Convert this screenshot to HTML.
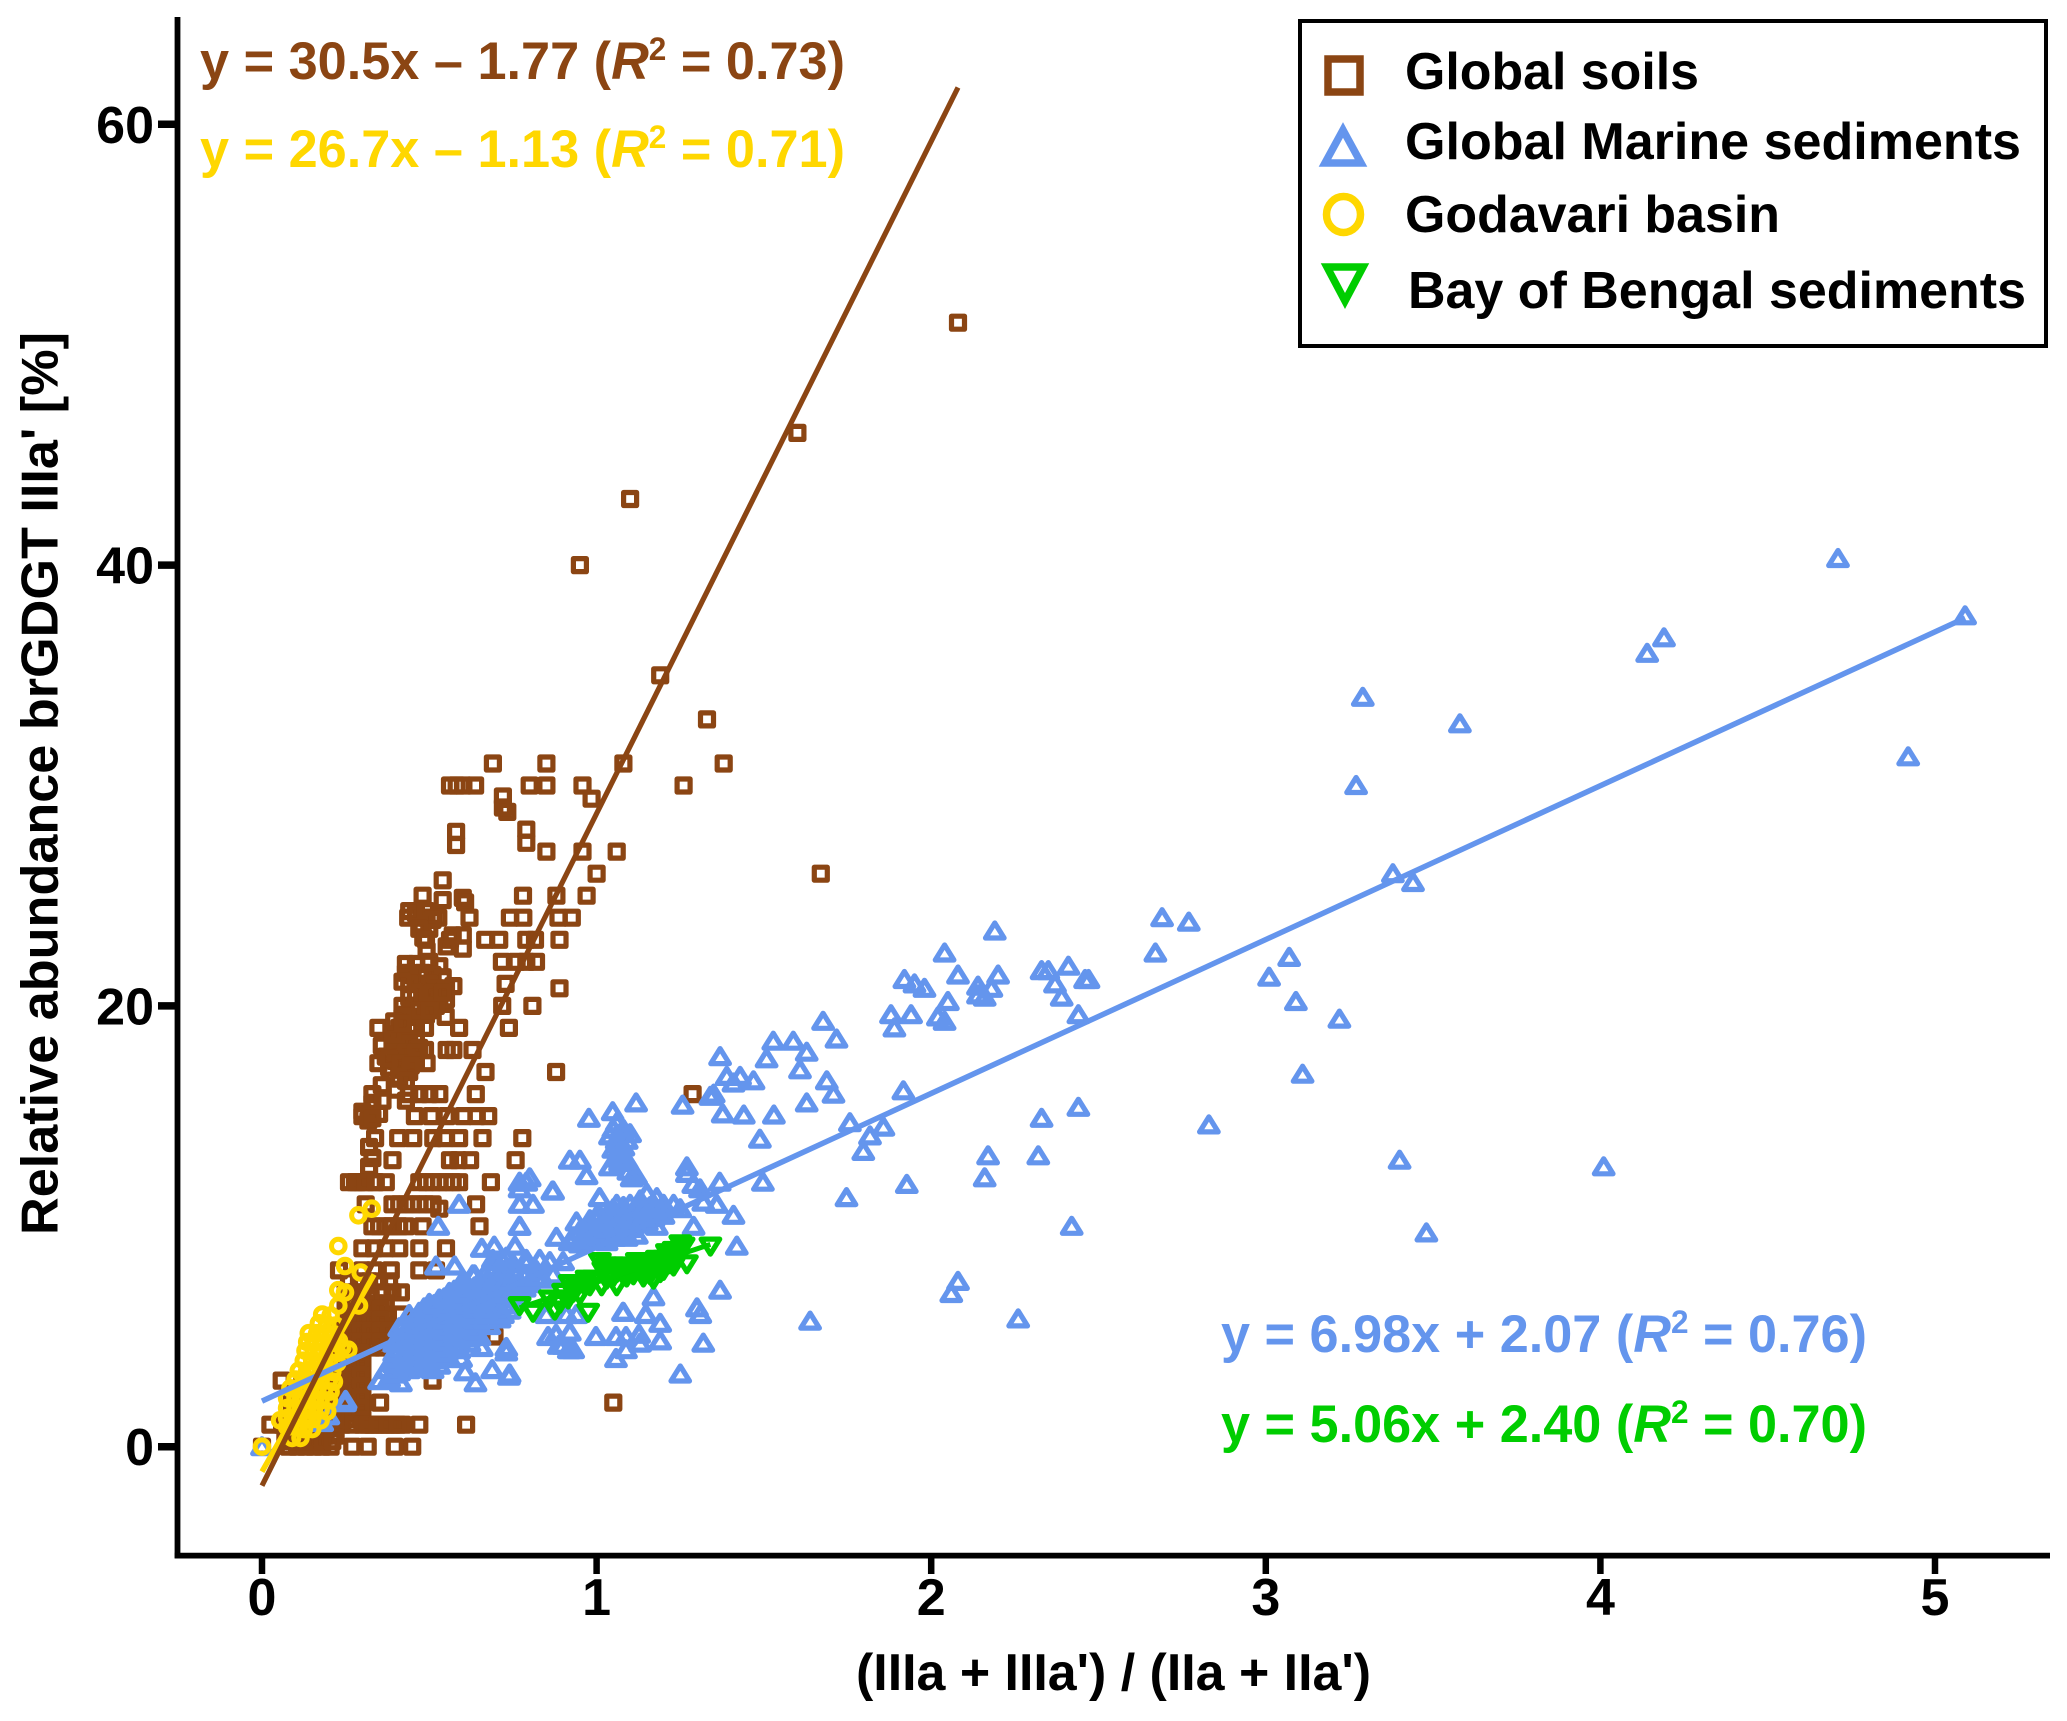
<!DOCTYPE html>
<html>
<head>
<meta charset="utf-8">
<title>brGDGT IIIa' relative abundance scatter chart</title>
<style>
html,body{margin:0;padding:0;background:#fff;}
svg{display:block;}
text{font-family:"Liberation Sans",Arial,sans-serif;font-weight:bold;}
</style>
</head>
<body>
<svg id="chart" xmlns="http://www.w3.org/2000/svg" width="2067" height="1721" viewBox="0 0 2067 1721">
  <rect x="0" y="0" width="2067" height="1721" fill="#fff"/>
  <g id="soil-layer"></g>
  <g id="marine-layer"></g>
  <g id="godavari-layer"></g>
  <g id="bengal-layer"></g>
  <g id="line-layer"></g>
  <g id="axis-layer"></g>

  <text transform="translate(57.5,783.5) rotate(-90)" text-anchor="middle" font-size="52" textLength="903" lengthAdjust="spacingAndGlyphs" fill="#000">Relative abundance brGDGT IIIa' [%]</text>
  <text x="856" y="1690" font-size="52" textLength="515" lengthAdjust="spacingAndGlyphs" fill="#000">(IIIa + IIIa') / (IIa + IIa')</text>

  <text x="200" y="79" font-size="53" textLength="645" lengthAdjust="spacingAndGlyphs" fill="#8B4513">y = 30.5x – 1.77 (<tspan font-style="italic">R</tspan><tspan font-size="32" dy="-19">2</tspan><tspan dy="19"> = 0.73)</tspan></text>
  <text x="200" y="167" font-size="53" textLength="645" lengthAdjust="spacingAndGlyphs" fill="#FFD700">y = 26.7x – 1.13 (<tspan font-style="italic">R</tspan><tspan font-size="32" dy="-19">2</tspan><tspan dy="19"> = 0.71)</tspan></text>
  <text x="1221" y="1352" font-size="53" textLength="646" lengthAdjust="spacingAndGlyphs" fill="#6495ED">y = 6.98x + 2.07 (<tspan font-style="italic">R</tspan><tspan font-size="32" dy="-19">2</tspan><tspan dy="19"> = 0.76)</tspan></text>
  <text x="1221" y="1442" font-size="53" textLength="646" lengthAdjust="spacingAndGlyphs" fill="#00CD00">y = 5.06x + 2.40 (<tspan font-style="italic">R</tspan><tspan font-size="32" dy="-19">2</tspan><tspan dy="19"> = 0.70)</tspan></text>

  <g>
    <rect x="1300" y="21" width="746" height="325" fill="#fff" stroke="#000" stroke-width="4"/>
    <rect x="1328" y="59" width="32" height="33" fill="none" stroke="#8B4513" stroke-width="7.5"/>
    <polygon points="1343,130 1361,163 1325,163" fill="none" stroke="#6495ED" stroke-width="7.5"/>
    <ellipse cx="1343.5" cy="214.5" rx="17" ry="18" fill="none" stroke="#FFD700" stroke-width="7.5"/>
    <polygon points="1327,267 1363,267 1345,301" fill="none" stroke="#00CD00" stroke-width="7.5"/>
    <text x="1405" y="89" font-size="52" textLength="294" lengthAdjust="spacingAndGlyphs" fill="#000">Global soils</text>
    <text x="1405" y="159" font-size="52" textLength="616" lengthAdjust="spacingAndGlyphs" fill="#000">Global Marine sediments</text>
    <text x="1405" y="232" font-size="52" textLength="375" lengthAdjust="spacingAndGlyphs" fill="#000">Godavari basin</text>
    <text x="1408" y="308" font-size="52" textLength="618" lengthAdjust="spacingAndGlyphs" fill="#000">Bay of Bengal sediments</text>
  </g>
</svg>
<script>
const xTickValues = [0, 1, 2, 3, 4, 5];
const yTickValues = [0, 20, 40, 60];

const soilPoints = [
[2.08,51],[1.6,46],[1.1,43],[.95,40],[1.19,35],[1.33,33],[1.38,31],[1.08,31],[.85,31],[.69,31],[1.26,30],[.562,30],[.582,30],[.602,30],[.637,30],[.8,30],[.85,30],[.958,30],
[.72,29.5],[.985,29.4],[.733,28.8],[.72,29],[.58,27.9],[.58,27.3],[.79,28],[.79,27.4],[.85,27],[.958,27],[1.06,27],[1.67,26],[1,26],[.78,25],[.88,25],[.97,25],[.54,25.7],[.48,25],[.54,24.8],[.6,24.9],[.607,24.7],[.62,24],
[.437,24],[.477,24],[.492,24],[.512,24],[.527,24],[.477,23.7],[.5,23.5],[.741,24],[.781,24],[.886,24],[.926,24],[.667,23],[.709,23],[.79,23],[.816,23],[.889,23],[.6,23.2],[.6,22.6],[.562,23],[.482,23.1],[.492,22.5],[.552,22.7],[.57,23.2],
[.717,22],[.761,22],[.79,22],[.819,22],[.728,21],[.889,20.8],[.718,20],[.808,20],[.738,19],[.589,19],[.549,19.5],[.552,18],[.572,18],[.629,18],[.668,17],[.879,17],[.639,16],[1.287,16],
[.43,21.9],[.46,21.9],[.5,22],[.53,21.8],[.45,21.4],[.48,21.5],[.51,21.4],[.54,21.3],[.47,21],[.5,21],[.52,20.8],[.55,20.8],[.572,20.9],[.49,20.4],[.53,20.3],[.55,20.3],
[.42,20],[.45,20],[.47,20],[.5,20],[.52,20],[.43,19.6],[.46,19.5],[.49,19.6],[.41,19],[.44,19],[.46,19],[.487,19],[.4,18.6],[.43,18.5],[.46,18.5],[.348,19],[.39,18.2],[.42,18],[.45,18],[.487,18],[.358,18.2],[.37,17.7],[.4,17.5],[.43,17.5],[.46,17.5],[.348,17.4],[.38,17.2],[.41,17.1],[.44,17],[.492,17.4],
[.44,24.3],[.46,24.2],[.49,24.3],[.51,23.9],[.47,23.5],[.49,23],[.43,21.5],[.44,21],[.46,20.6],[.42,21.1],[.51,20.6],[.54,20.6],[.44,20.4],[.47,19.8],[.5,19.8],[.42,19.5],[.41,18.4],[.44,18.3],[.47,18.1],[.39,18.7],[.4,17.9],[.43,17.9],[.46,17.9],[.38,17.6],[.415,17.4],[.445,17.3],[.395,19.3],[.42,19.2],
[.33,16],[.358,16.4],[.4,16.2],[.44,16],[.47,16],[.5,16],[.53,16],[.41,16.7],[.43,16.6],[.33,15.6],[.3,15.2],[.318,14.8],[.35,15.1],[.36,15.7],[.3,15],[.33,14.9],[.43,15.7],
[.457,15],[.507,15],[.552,15],[.602,15],[.642,15],[.676,15],[.338,14],[.407,14],[.452,14],[.512,14],[.547,14],[.589,14],[.659,14],[.778,14],[.39,13],[.32,13.6],[.33,13.1],[.32,12.7],[.562,13],[.587,13],[.622,13],[.758,13],
[.278,12],[.298,12],[.338,12],[.26,12],[.285,12],[.31,12],[.34,12],[.37,12],[.47,12],[.49,12],[.51,12],[.53,12],[.55,12],[.57,12],[.589,12],[.684,12],[.31,11],[.39,11],[.41,11],[.43,11],[.45,11],[.47,11],[.49,11],[.51,11],[.53,10.8],[.64,11],[.33,10],[.35,10],[.37,10],[.385,10],[.39,10],[.41,10],[.43,10],[.48,10],[.65,10],[.3,9],[.335,9],[.37,9],[.41,9],[.47,9],[.55,9],[.23,8],[.3,8],[.335,8],[.385,8],[.47,8],[.52,8],
[.32,7],[.36,7],[.39,7],[.415,7],[.31,6],[.37,6],[.415,6],[.31,5],[.34,5],[.37,5],[.695,5],[.27,4],[.3,4],[.46,4],[.059,3],[.51,3],[.353,2],[1.05,2],[.025,1],[.47,1],[.61,1],[0,0],[.27,0],[.316,0],[.397,0],[.449,0],
[.26,7.5],[.29,7.5],[.32,7.5],[.35,7.5],[.38,7.5],[.25,7],[.28,7],[.3,7],[.25,6.5],[.28,6.5],[.31,6.5],[.34,6.5],[.37,6.5],[.25,6],[.28,6],[.34,6],[.25,5.5],[.28,5.5],[.31,5.5],[.34,5.5],[.37,5.5],[.25,5],[.28,5],[.25,4.5],[.28,4.5],[.3,4.5],[.33,4.5],[.36,4.5],[.25,3.5],[.28,3.5],[.3,3.5],[.25,3],[.28,3],[.3,3],[.25,2.5],[.28,2.5],[.3,2.5],[.25,2],[.28,2],[.3,2],[.25,1.5],[.28,1.5],[.3,1.5],
[.265,6.75],[.295,6.75],[.325,6.75],[.265,6.25],[.295,6.25],[.325,6.25],[.355,6.25],[.265,5.75],[.295,5.75],[.325,5.75],[.355,5.75],[.265,5.25],[.295,5.25],[.325,5.25],[.355,5.25],[.38,5.25],[.265,4.75],[.295,4.75],[.325,4.75],[.355,4.75],[.38,4.75],[.265,4.25],[.295,4.25],[.265,3.75],[.295,3.75],[.265,3.25],[.295,3.25],[.265,2.75],[.295,2.75],[.265,2.25],[.295,2.25],[.265,1.75],[.295,1.75],[.265,1.25],[.295,1.25],
[.12,3],[.15,3],[.18,3],[.21,3],[.1,2.5],[.13,2.5],[.16,2.5],[.19,2.5],[.22,2.5],[.09,2],[.12,2],[.15,2],[.18,2],[.21,2],[.09,1.5],[.12,1.5],[.15,1.5],[.18,1.5],[.21,1.5],[.23,1.5],[.06,1],[.09,1],[.12,1],[.15,1],[.18,1],[.21,1],[.24,1],[.27,1],[.3,1],[.33,1],[.36,1],[.39,1],[.42,1],[.07,.5],[.1,.5],[.13,.5],[.16,.5],[.19,.5],[.22,.5],[.08,0],[.105,0],[.13,0],[.155,0],[.18,0],[.205,0],[.09,.25],[.12,.25],[.15,.25],[.18,.25],[.21,.25],[.315,1],[.345,1],[.375,1],[.405,1],[.22,1.25],[.19,1.25],[.21,1.75],[.23,2.25],[.23,2.75],[.23,3.25],[.23,3.75],[.23,4.25],[.23,4.75],[.23,5.25]
];

const marinePoints = [
[5.09,37.7],[4.71,40.3],[4.92,31.3],[4.19,36.7],[4.14,36],[4.01,12.7],[3.58,32.8],[3.29,34],[3.27,30],[3.48,9.7],[3.4,13],[3.38,26],[3.44,25.6],[3.22,19.4],[3.11,16.9],[3.09,20.2],[3.07,22.2],[3.01,21.3],[2.83,14.6],[2.77,23.8],[2.69,24],[2.67,22.4],[2.47,21.2],[2.46,21.2],[2.44,19.6],[2.44,15.4],[2.42,10],[2.41,21.8],[2.39,20.4],[2.37,21],[2.35,21.6],[2.33,21.6],[2.33,14.9],[2.32,13.2],[2.26,5.8],[2.2,21.4],[2.19,23.4],[2.18,20.8],[2.17,13.2],[2.16,20.4],[2.14,20.5],[2.16,12.2],[2.14,20.9],[2.08,7.5],[2.06,6.95],[2.08,21.4],[2.05,20.2],[2.04,19.3],[2.02,19.5],[2.04,22.4],[1.98,20.8],[1.95,21],[1.92,21.2],[1.94,19.6],[1.88,19.6],[1.89,19],[1.917,16.15],[1.927,11.9],
[1.857,14.5],[1.817,14.1],[1.797,13.4],[1.757,14.7],[1.747,11.3],[1.717,18.5],[1.677,19.3],[1.708,16],[1.688,16.6],[1.628,17.9],[1.608,17.1],[1.628,15.6],[1.638,5.7],[1.588,18.4],[1.528,18.4],[1.508,17.6],[1.53,15.05],[1.497,12],[1.488,13.95],[1.44,15.05],[1.469,16.6],[1.429,16.8],[1.409,16.5],[1.389,16.8],[1.377,15.1],[1.369,17.7],[1.34,15.9],[1.35,16],[1.257,15.5],
[1.118,15.6],[1.048,15.2],[.977,14.9],[1.368,12],[1.27,12.7],[1.27,12.4],[1.289,11.9],[1.309,11.7],[1.319,11.1],[1.359,11],[1.409,10.5],[1.29,10],[1.419,9.1],[1.369,7.1],[1.3,6.3],[1.31,6],[1.319,4.7],[1.25,3.3],[1.19,5.6],[1.17,6.8],[1.147,6],[1.079,6.1],[1.19,4.8],[1.127,5.1],[1.13,4.7],[1.088,5],[1.088,4.4],[1.058,4],[1.058,5],[.998,5],[.92,5.2],[.879,5.1],[.9,4.6],[.92,4.4],[.93,4.4],[.73,4.5],[.74,3.3],
[1.009,11.3],[.87,11.6],[.79,12],[.77,11.7],[.77,11],[.81,11],[.77,10],[.92,13],[.95,13],[.97,12.3],[1.04,12.7],[1.095,12.5],[1.118,12.3],[1.105,12.2],[1.06,13.9],[1.07,14.2],[1.05,13.5],[1.08,13.6],[1.04,14.1],[1.1,14.2],[1.06,13.1],[1.09,13],[1.07,12.9],[1.06,14.7],[1.08,14.4],[1.07,13.4],[1.07,13.7],[1.05,14.4],[1.09,13.9],
[1.15,11.5],[1.18,11.3],[1.2,11],[1.23,11],[1.25,10.8],[1.13,11.2],[1.16,10.9],
[.92,9.3],[.95,9.2],[.95,9.8],[.98,9.4],[.98,10],[1,10.3],[1.01,9.5],[1.01,9.9],[1.03,10.5],[1.04,9.7],[1.04,10.1],[1.05,10.8],[1.07,9.8],[1.07,10.3],[1.08,10.9],[1.1,9.9],[1.1,10.4],[1.1,11],[1.12,10.1],[1.12,10.6],[1.13,11],[1.15,10.2],[1.15,10.6],[1.17,10.4],[1.17,10.9],[1.2,10.5],[1.03,9.3],[1.09,9.5],[1.12,9.6],[1.18,10],
[.965,9.6],[.995,9.7],[1.025,9.9],[1.025,10.2],[1.055,9.5],[1.055,10],[1.055,10.5],[1.085,9.7],[1.085,10.1],[1.085,10.6],[1.115,10.3],[1.115,10.8],[1.14,10.4],[1.14,10.8],[1.16,10.6],[1.19,10.7],[.935,9.5],[1.005,10.6],[1.06,11],
[.38,3.1],[.35,3],[.37,3.5],[.415,2.9],[.41,3.4],[.41,3.9],[.41,4.4],[.41,4.9],[.41,5.4],[.44,3.5],[.44,4],[.44,4.5],[.44,5],[.44,5.5],[.44,6],[.47,3.6],[.47,4.1],[.47,4.6],[.47,5.1],[.47,5.6],[.47,6.1],[.5,3.6],[.5,4.1],[.5,4.6],[.5,5.1],[.5,5.6],[.5,6.1],[.5,6.5],[.53,3.7],[.53,4.2],[.53,4.7],[.53,5.2],[.53,5.7],[.53,6.2],[.53,6.7],[.56,4],[.56,4.5],[.56,5],[.56,5.5],[.56,6],[.56,6.5],[.56,7],[.59,4.4],[.59,4.9],[.59,5.4],[.59,5.9],[.59,6.4],[.59,6.9],[.59,7.3],[.62,4.7],[.62,5.2],[.62,5.7],[.62,6.2],[.62,6.7],[.62,7.2],[.65,5],[.65,5.5],[.65,6],[.65,6.5],[.65,7],[.65,7.5],[.68,5.5],[.68,6],[.68,6.5],[.68,7],[.68,7.5],[.71,5.8],[.71,6.3],[.71,6.8],[.71,7.3],[.71,7.8],[.74,6.2],[.74,6.7],[.74,7.2],[.74,7.7],[.77,7],[.77,7.5],[.8,7.4],[.84,7.6],[.87,7.8],
[.395,3.3],[.395,3.75],[.395,4.25],[.395,4.7],[.425,3.65],[.425,4.15],[.425,4.65],[.425,5.15],[.425,5.6],[.455,3.8],[.455,4.3],[.455,4.8],[.455,5.3],[.455,5.8],[.485,3.85],[.485,4.35],[.485,4.85],[.485,5.35],[.485,5.85],[.485,6.3],[.515,3.95],[.515,4.45],[.515,4.95],[.515,5.45],[.515,5.95],[.515,6.45],[.545,4.25],[.545,4.75],[.545,5.25],[.545,5.75],[.545,6.25],[.545,6.75],[.575,4.65],[.575,5.15],[.575,5.65],[.575,6.15],[.575,6.65],[.575,7.1],[.605,4.95],[.605,5.45],[.605,5.95],[.605,6.45],[.605,6.95],[.605,7.5],[.635,5.25],[.635,5.75],[.635,6.25],[.635,6.75],[.635,7.25],[.635,7.8],[.665,5.75],[.665,6.25],[.665,6.75],[.665,7.25],[.665,7.8],[.695,6.05],[.695,6.55],[.695,7.05],[.695,7.55],[.695,8.1],[.69,8.5],[.725,6.45],[.725,6.95],[.725,7.45],[.725,8],[.72,8.4],[.755,6.85],[.755,7.35],[.755,7.85],[.75,8.3],[.785,7.2],[.785,7.7],[.79,8.3],[.82,7.7],[.82,8],
[.589,11],[.527,10],[.77,10],[.657,9],[.694,9.1],[.756,9.1],[.77,12],[.8,12.2],[.868,11.6],[.52,8.2],[.576,8.2],[.63,7.8],[.83,8.5],[.88,9.5],[.94,10.2],[.98,10.3],[.7,8.4],[.73,8.6],[.79,8.5],[.86,8.4],[.9,8.4],
[.51,3.5],[.595,4],[.607,3.4],[.638,2.9],[.688,3.5],[.73,4.3],[.738,3.2],[.657,4.5],[.855,5],[.887,4.6],[.917,4.4],[.72,6],[.67,6],[.85,6],[.94,6],[.91,6],[1.08,6.1],[.248,2],[.25,2.1],[.198,1.4],[.18,1.1],[0,0]
];

const godavariPoints = [
[0,0],[.328,10.8],[.288,10.5],[.228,9.1],[.248,8.2],[.295,7.9],[.228,7.1],[.248,7],[.228,6.4],[.29,6.4],[.258,4.4],[.054,1.2],[.23,4.8],[.24,4.5],
[.09,.4],[.115,.4],[.1,.9],[.125,.8],[.15,.8],[.075,.9],[.075,1.3],[.1,1.3],[.125,1.25],[.15,1.25],[.175,1.2],[.075,1.75],[.1,1.75],[.125,1.7],[.15,1.7],[.175,1.65],[.195,1.6],[.075,2.2],[.1,2.2],[.125,2.15],[.15,2.15],[.175,2.1],[.2,2.1],[.085,2.65],[.11,2.6],[.135,2.6],[.16,2.6],[.185,2.55],[.205,2.5],[.1,3.05],[.125,3.05],[.15,3],[.175,3],[.2,3],[.215,2.95],[.11,3.45],[.135,3.45],[.16,3.45],[.185,3.4],[.21,3.4],[.125,3.9],[.15,3.9],[.175,3.85],[.2,3.85],[.225,3.8],[.13,4.35],[.155,4.3],[.18,4.3],[.205,4.3],[.225,4.25],[.135,4.75],[.16,4.75],[.185,4.7],[.21,4.7],[.14,5.15],[.165,5.15],[.19,5.1],[.215,5.1],[.17,5.6],[.195,5.55],[.22,5.5],[.18,6],[.205,5.95]
];

const bengalPoints = [
[.77,6.4],[.81,6.1],[.875,6.2],[.86,6.7],[.915,6.7],[.95,6.9],[.975,6.1],[.92,7.4],[.96,7.4],[.99,7.6],[1.015,7.3],[1.06,7.3],[1.01,8.4],[1.05,8.2],[1.08,8.2],[1.11,7.8],[1.13,8.3],[1.17,7.6],[1.15,8.2],[1.19,8.3],[1.21,8.8],[1.22,8.3],[1.27,8.3],[1.25,9.2],[1.34,9.1],[1.18,8.5],[1.23,8.9],[1.09,7.7],[1.14,8],[1.04,7.9],[.98,7.3],[.93,7],[1.07,8],[1.1,8.1],[1.16,8],[1.2,8],[1.24,8.6],[1.03,7.6],[.89,6.5],[1.12,8.4],[1.26,9.1],
[1.03,8.2],[1.06,7.9],[1.09,8.1],[1.12,8.2],[1.14,7.7],[1.17,8.3],[1.19,7.9],[1.21,8.4],[1.23,8.2],[1.02,8],[1.05,7.7],[1.08,7.8],[1.11,8.1],[1.16,7.8],[1.18,8.1],[1.2,8.5],[1.22,8.7],[.9,7],[.94,7.2],[.97,7.6]
];

const soilFit = [30.5, -1.77, 0, 2.08];
const marineFit = [6.98, 2.07, 0, 5.09];
const godavariFit = [26.7, -1.13, 0, 0.335];
const bengalFit = [5.06, 2.40, 0.77, 1.34];

const NS = 'http://www.w3.org/2000/svg';
function sx(v){ return 262 + 334.6 * v; }
function sy(v){ return 1446.7 - 22.04 * v; }
function mk(tag, parent){ const e = document.createElementNS(NS, tag); parent.appendChild(e); return e; }
function attr(e, a){ for (const k in a) e.setAttribute(k, a[k]); return e; }

const soilLayer = document.getElementById('soil-layer');
soilPoints.forEach(function(p){
  const e = mk('rect', soilLayer);
  
  
  attr(e, {x: (sx(p[0]) - 6.5).toFixed(1), y: (sy(p[1]) - 6.5).toFixed(1), width: 13, height: 13, fill: 'none', stroke: '#8B4513', 'stroke-width': 5.2, 'stroke-linejoin': 'round'});
});

const marineLayer = document.getElementById('marine-layer');
marinePoints.forEach(function(p){
  const x = sx(p[0]), y = sy(p[1]);
  const e = mk('polygon', marineLayer);
  
  
  attr(e, {points: x.toFixed(1) + ',' + (y - 8).toFixed(1) + ' ' + (x + 9.3).toFixed(1) + ',' + (y + 7).toFixed(1) + ' ' + (x - 9.3).toFixed(1) + ',' + (y + 7).toFixed(1), fill: 'none', stroke: '#6495ED', 'stroke-width': 5.2, 'stroke-linejoin': 'round'});
});

const godavariLayer = document.getElementById('godavari-layer');
godavariPoints.forEach(function(p){
  const e = mk('circle', godavariLayer);
  
  
  attr(e, {cx: sx(p[0]).toFixed(1), cy: sy(p[1]).toFixed(1), r: 6.8, fill: 'none', stroke: '#FFD700', 'stroke-width': 5});
});

const bengalLayer = document.getElementById('bengal-layer');
bengalPoints.forEach(function(p){
  const x = sx(p[0]), y = sy(p[1]);
  const e = mk('polygon', bengalLayer);
  
  
  attr(e, {points: (x - 9.3).toFixed(1) + ',' + (y - 7).toFixed(1) + ' ' + (x + 9.3).toFixed(1) + ',' + (y - 7).toFixed(1) + ' ' + x.toFixed(1) + ',' + (y + 8).toFixed(1), fill: 'none', stroke: '#00CD00', 'stroke-width': 5.2, 'stroke-linejoin': 'round'});
});

const lineLayer = document.getElementById('line-layer');
function fitLine(fit, color, w){
  const e = mk('line', lineLayer);
  attr(e, {x1: sx(fit[2]).toFixed(1), y1: sy(fit[0] * fit[2] + fit[1]).toFixed(1), x2: sx(fit[3]).toFixed(1), y2: sy(fit[0] * fit[3] + fit[1]).toFixed(1), stroke: color, 'stroke-width': w});
  return e;
}
const bengalLine = fitLine(bengalFit, '#00CD00', 5);


const godavariLine = fitLine(godavariFit, '#FFD700', 5.5);


const marineLine = fitLine(marineFit, '#6495ED', 5.5);


const soilLine = fitLine(soilFit, '#8B4513', 5.2);



const axisLayer = document.getElementById('axis-layer');
const yAxisLine = mk('line', axisLayer);


attr(yAxisLine, {x1: 177.5, y1: 17, x2: 177.5, y2: 1558.4, stroke: '#000', 'stroke-width': 5.8});
const xAxisLine = mk('line', axisLayer);


attr(xAxisLine, {x1: 174.7, y1: 1555.6, x2: 2050, y2: 1555.6, stroke: '#000', 'stroke-width': 5.8});

xTickValues.forEach(function(v){
  const t = mk('line', axisLayer);
  
  
  attr(t, {x1: sx(v), y1: 1558, x2: sx(v), y2: 1574, stroke: '#000', 'stroke-width': 6.5});
  const l = mk('text', axisLayer);
  
  
  attr(l, {x: sx(v), y: 1615, 'text-anchor': 'middle', 'font-size': 52, fill: '#000'});
  l.textContent = String(v);
});
yTickValues.forEach(function(v){
  const t = mk('line', axisLayer);
  
  
  attr(t, {x1: 158, y1: sy(v), x2: 176, y2: sy(v), stroke: '#000', 'stroke-width': 7.5});
  const l = mk('text', axisLayer);
  
  
  attr(l, {x: 154, y: sy(v) + 18.5, 'text-anchor': 'end', 'font-size': 52, fill: '#000'});
  l.textContent = String(v);
});
</script>
</body>
</html>
